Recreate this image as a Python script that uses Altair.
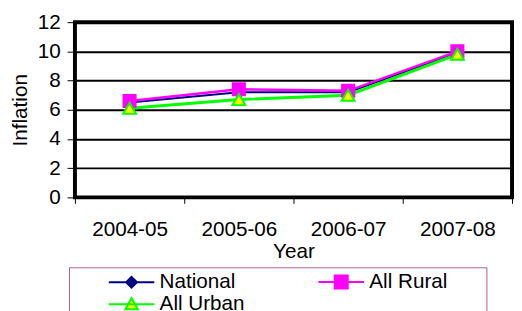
import altair as alt
import pandas as pd

years = ["2004-05", "2005-06", "2006-07", "2007-08"]
series = ["National", "All Rural", "All Urban"]
national = [6.5, 7.2, 7.2, 9.9]
rural = [6.6, 7.4, 7.3, 10.0]
urban = [6.1, 6.7, 7.0, 9.8]

line_colors = ["#000080", "#FF00FF", "#00FF00"]
fill_colors = ["#000080", "#FF00FF", "#FFFF00"]
line_widths = [2, 3, 2]
plot_shapes = ["diamond", "square", "triangle-up"]
plot_sizes = [130, 170, 200]
legend_shapes = [
    "M-4.2,0H4.2M0,-1L1,0L0,1L-1,0Z",
    "M-4.2,0H4.2M-1.2,-1.2H1.2V1.2H-1.2Z",
    "M-4.2,0H4.2M0,-1.15L1.15,0.95H-1.15Z",
]

rows = []
for s, vals in zip(series, [national, rural, urban]):
    for yr, v in zip(years, vals):
        rows.append({"Year": yr, "Inflation": v, "series": s, "order": series.index(s)})
df = pd.DataFrame(rows)

FONT = "Liberation Sans"
FS = 21

x = alt.X("Year:N", sort=years,
          scale=alt.Scale(domain=years, paddingInner=0, paddingOuter=0),
          axis=alt.Axis(title="Year", labelAngle=0, tickBand="extent", tickSize=6,
                        tickColor="black", tickWidth=1, domain=False,
                        labelPadding=16, titlePadding=1))
y = alt.Y("Inflation:Q",
          scale=alt.Scale(domain=[0, 12], nice=False, zero=True),
          axis=alt.Axis(title="Inflation", values=[0, 2, 4, 6, 8, 10, 12], tickSize=8,
                        tickColor="black", tickWidth=1, domain=False,
                        grid=True, gridColor="black", gridWidth=2, labelPadding=7,
                        titlePadding=7))

base = alt.Chart(df)

lines = base.mark_line().encode(
    x=x, y=y,
    stroke=alt.Stroke("series:N", scale=alt.Scale(domain=series, range=line_colors), legend=None),
    strokeWidth=alt.StrokeWidth("series:N", scale=alt.Scale(domain=series, range=line_widths), legend=None),
    detail="series:N",
)

points = base.mark_point(filled=False, strokeWidth=2, opacity=1).encode(
    x=x, y=y,
    shape=alt.Shape("series:N", scale=alt.Scale(domain=series, range=plot_shapes), legend=None),
    fill=alt.Fill("series:N", scale=alt.Scale(domain=series, range=fill_colors), legend=None),
    stroke=alt.Stroke("series:N", scale=alt.Scale(domain=series, range=line_colors), legend=None),
    size=alt.Size("series:N", scale=alt.Scale(domain=series, range=plot_sizes), legend=None),
    order="order:Q",
)

leg = alt.Legend(title="\u00a0", titleOrient="right", titlePadding=36, titleFontSize=FS,
                 orient="none", legendX=-6, legendY=249, columns=2,
                 direction="horizontal",
                 strokeColor="#B06080", fillColor="white", padding=4,
                 labelFontSize=FS, labelFont=FONT, labelColor="black",
                 symbolSize=121, symbolStrokeWidth=2, symbolOffset=49,
                 labelOffset=18, columnPadding=38, rowPadding=0)

legend_layer = base.transform_filter("false").mark_point(filled=False, size=121, strokeWidth=2, opacity=1).encode(
    x=x, y=y,
    shape=alt.Shape("series:N", scale=alt.Scale(domain=series, range=legend_shapes), legend=leg),
    fill=alt.Fill("series:N", scale=alt.Scale(domain=series, range=fill_colors), legend=leg),
    stroke=alt.Stroke("series:N", scale=alt.Scale(domain=series, range=line_colors), legend=leg),
)

chart = alt.layer(lines, points, legend_layer).resolve_scale(
    shape="independent", fill="independent", stroke="independent", size="independent",
    strokeWidth="independent"
).properties(
    width=444, height=178,
    autosize=alt.AutoSizeParams(type="none"),
    padding={"left": 68, "top": 12, "right": 2, "bottom": 113},
).configure_view(
    stroke="black", strokeWidth=4
).configure_axis(
    labelFont=FONT, titleFont=FONT, labelFontSize=FS, titleFontSize=FS,
    titleFontWeight="normal", labelColor="black", titleColor="black"
)

chart.save("out.html", embed_options={"renderer": "svg", "actions": False})
